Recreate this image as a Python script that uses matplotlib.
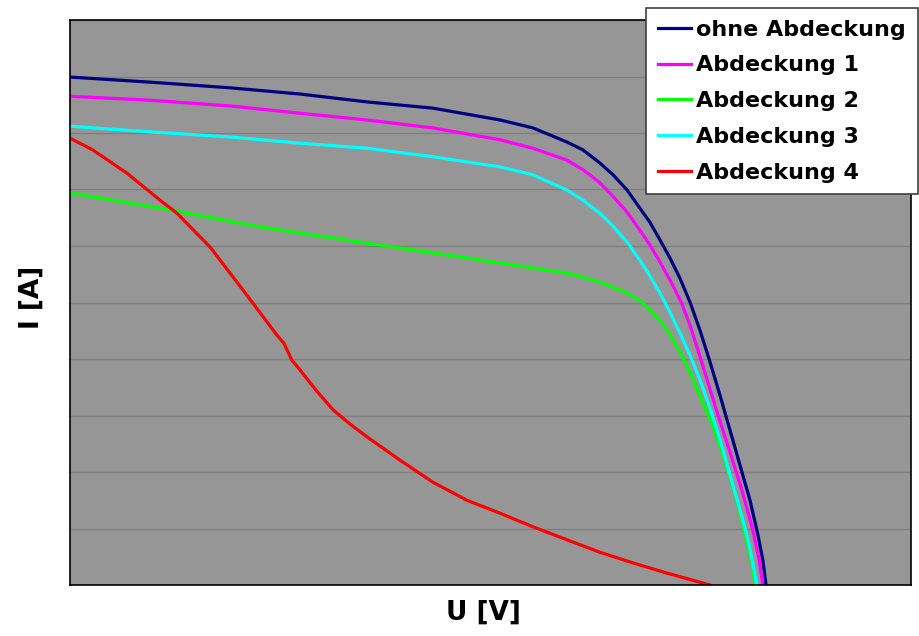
import matplotlib
matplotlib.use('Agg')
import matplotlib.pyplot as plt
import numpy as np

# Kennlinien
u_ohne = [0.00, 2.00, 3.99, 5.74, 7.42, 9.06, 10.74, 11.56, 12.41, 12.81, 13.23, 13.56,
          13.91, 14.23, 14.48, 14.73, 14.98, 15.23, 15.48, 15.73, 15.98, 16.23, 16.48,
          16.73, 16.98, 17.18, 17.30, 17.38]
i_ohne = [0.899, 0.890, 0.880, 0.869, 0.855, 0.844, 0.823, 0.809, 0.784, 0.770, 0.747, 0.726,
          0.699, 0.667, 0.642, 0.611, 0.579, 0.543, 0.501, 0.451, 0.395, 0.336, 0.274,
          0.212, 0.150, 0.088, 0.044, 0.000]

u_abd1 = [0.00, 2.00, 3.99, 5.74, 7.42, 9.06, 10.74, 11.56, 12.41, 12.81, 13.23, 13.56,
          13.91, 14.23, 14.48, 14.73, 14.98, 15.26, 15.48, 15.68, 15.91, 16.18, 16.48,
          16.76, 17.03, 17.20, 17.30]
i_abd1 = [0.865, 0.858, 0.848, 0.835, 0.823, 0.809, 0.788, 0.773, 0.752, 0.735, 0.712, 0.688,
          0.660, 0.628, 0.602, 0.572, 0.540, 0.501, 0.460, 0.416, 0.363, 0.301, 0.235,
          0.172, 0.103, 0.048, 0.000]

u_abd2 = [0.00, 2.25, 4.74, 5.74, 7.42, 9.06, 10.74, 12.41, 12.81, 13.23, 13.56, 13.91,
          14.23, 14.41, 14.56, 14.73, 14.91, 15.06, 15.31, 15.56, 15.81, 16.06, 16.28,
          16.48, 16.66, 16.81, 16.95, 17.05, 17.10]
i_abd2 = [0.694, 0.667, 0.634, 0.623, 0.605, 0.588, 0.570, 0.552, 0.545, 0.536, 0.527, 0.517,
          0.503, 0.492, 0.481, 0.469, 0.451, 0.434, 0.402, 0.363, 0.322, 0.280, 0.235,
          0.191, 0.147, 0.103, 0.062, 0.032, 0.000]

u_abd3 = [0.00, 2.00, 3.99, 5.74, 7.42, 9.06, 10.74, 11.56, 12.41, 12.81, 13.23, 13.56,
          13.91, 14.23, 14.48, 14.73, 14.98, 15.23, 15.48, 15.73, 15.98, 16.23, 16.48,
          16.73, 16.93, 17.05, 17.15]
i_abd3 = [0.812, 0.802, 0.793, 0.782, 0.773, 0.758, 0.740, 0.726, 0.699, 0.681, 0.658, 0.635,
          0.607, 0.575, 0.547, 0.517, 0.483, 0.446, 0.407, 0.363, 0.313, 0.257, 0.195,
          0.133, 0.080, 0.039, 0.000]

u_abd4 = [0.00, 0.57, 1.42, 2.25, 2.67, 3.50, 4.32, 5.17, 5.34, 5.42, 5.54, 5.74, 6.14,
          6.57, 6.99, 7.42, 8.24, 9.06, 9.91, 10.74, 11.56, 12.41, 13.23, 14.06, 14.91, 15.98]
i_abd4 = [0.791, 0.770, 0.729, 0.681, 0.658, 0.598, 0.522, 0.442, 0.428, 0.416, 0.398, 0.381, 0.345,
          0.310, 0.285, 0.262, 0.221, 0.182, 0.150, 0.127, 0.103, 0.080, 0.058, 0.039, 0.021, 0.000]

namen = ['ohne Abdeckung', 'Abdeckung 1', 'Abdeckung 2', 'Abdeckung 3', 'Abdeckung 4']
farben = ['#000080', '#FF00FF', '#00FF00', '#00FFFF', '#FF0000']

plt.rcParams['font.family'] = ['DejaVu Sans']
plt.rcParams['font.weight'] = 'bold'

fig = plt.figure(figsize=(9.19, 6.36), dpi=100)
ax = fig.add_axes([70 / 919, 51 / 636, 841 / 919, 565 / 636])
ax.set_facecolor('#969696')

kurven = [(u_ohne, i_ohne), (u_abd1, i_abd1), (u_abd2, i_abd2), (u_abd3, i_abd3), (u_abd4, i_abd4)]
for (u, i), name, farbe in zip(kurven, namen, farben):
    ax.plot(u, i, color=farbe, lw=2.3, label=name, solid_joinstyle='round')

ax.set_xlim(0, 21)
ax.set_ylim(0, 1.0)
ax.set_yticks(np.arange(0, 1.01, 0.1))
ax.set_xticks([])
ax.yaxis.grid(True, color='#808080', lw=1)
ax.set_axisbelow(True)
ax.tick_params(length=0, labelleft=False, labelbottom=False)
for s in ax.spines.values():
    s.set_color('#000000')
    s.set_linewidth(1.2)

fig.text(483 / 919, 1 - 613 / 636, 'U [V]', ha='center', va='center', fontsize=19, fontweight='bold')
fig.text(32 / 919, 1 - 297 / 636, 'I [A]', ha='center', va='center', rotation=90,
         fontsize=19, fontweight='bold')

leg = ax.legend(loc='upper left', bbox_to_anchor=(646 / 919, 1 - 8 / 636),
                bbox_transform=fig.transFigure, borderaxespad=0, fancybox=False,
                framealpha=1, edgecolor='#404040', fontsize=16,
                handlelength=1.5, handletextpad=0.25, borderpad=0.52, labelspacing=0.71)
leg.get_frame().set_linewidth(1.2)
for t in leg.get_texts():
    t.set_fontweight('bold')

fig.savefig('out.png', dpi=100)
